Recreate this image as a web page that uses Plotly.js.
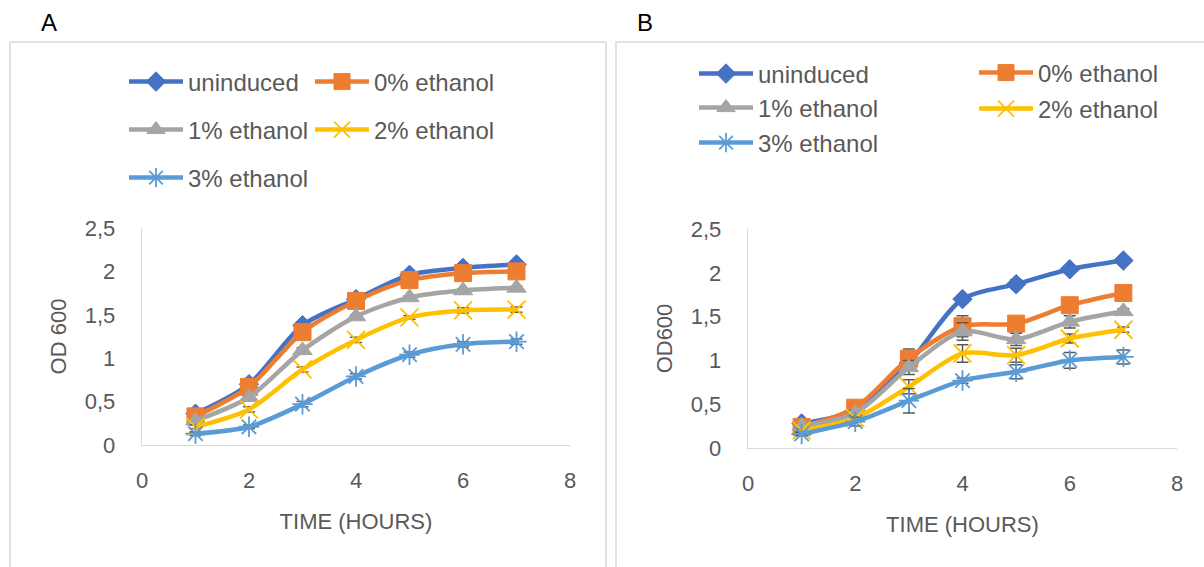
<!DOCTYPE html>
<html><head><meta charset="utf-8">
<script src="https://cdn.plot.ly/plotly-3.0.1.min.js"></script>
<style>html,body{margin:0;padding:0;background:#fff;overflow:hidden;width:1204px;height:567px}#chart{width:1204px;height:567px;overflow:hidden}</style>
</head><body><div id="chart"></div>
<script>
// ---- data ----
const time = [1, 2, 3, 4, 5, 6, 7];
const seriesNames = ['uninduced', '0% ethanol', '1% ethanol', '2% ethanol', '3% ethanol'];

// Panel A (OD 600)
const aUninduced = [0.36, 0.70, 1.38, 1.68, 1.96, 2.04, 2.08];
const aEthanol0  = [0.33, 0.67, 1.30, 1.66, 1.90, 1.98, 2.00];
const aEthanol1  = [0.28, 0.55, 1.09, 1.48, 1.70, 1.78, 1.81];
const aEthanol2  = [0.21, 0.41, 0.87, 1.21, 1.47, 1.55, 1.56];
const aEthanol3  = [0.13, 0.21, 0.47, 0.79, 1.04, 1.16, 1.19];
const aErrUninduced = [0.02, 0.02, 0.03, 0.02, 0.02, 0.02, 0.02];
const aErrEthanol0  = [0.02, 0.03, 0.03, 0.02, 0.02, 0.02, 0.02];
const aErrEthanol1  = [0.02, 0.02, 0.03, 0.02, 0.02, 0.02, 0.02];
const aErrEthanol2  = [0.02, 0.03, 0.03, 0.03, 0.02, 0.03, 0.03];
const aErrEthanol3  = [0.02, 0.02, 0.03, 0.03, 0.03, 0.03, 0.03];

// Panel B (OD600)
const bUninduced = [0.28, 0.43, 0.97, 1.70, 1.87, 2.04, 2.14];
const bEthanol0  = [0.24, 0.46, 1.02, 1.39, 1.42, 1.63, 1.77];
const bEthanol1  = [0.25, 0.40, 0.92, 1.33, 1.24, 1.44, 1.56];
const bEthanol2  = [0.20, 0.34, 0.70, 1.08, 1.06, 1.25, 1.35];
const bEthanol3  = [0.16, 0.30, 0.54, 0.77, 0.87, 1.00, 1.04];
const bErrUninduced = [0.02, 0.03, 0.05, 0.04, 0.05, 0.03, 0.03];
const bErrEthanol0  = [0.02, 0.04, 0.11, 0.12, 0.05, 0.04, 0.03];
const bErrEthanol1  = [0.02, 0.03, 0.08, 0.10, 0.07, 0.07, 0.03];
const bErrEthanol2  = [0.02, 0.03, 0.08, 0.10, 0.08, 0.05, 0.03];
const bErrEthanol3  = [0.02, 0.05, 0.14, 0.03, 0.08, 0.09, 0.08];

const xTickVals = [0, 2, 4, 6, 8];
const yTickVals = [0, 0.5, 1, 1.5, 2, 2.5];
const xTitle = 'TIME (HOURS)';
const yTitleA = 'OD 600';
const yTitleB = 'OD600';

// ---- styles ----
const colors = ['#4472C4', '#ED7D31', '#A5A5A5', '#FFC000', '#5B9BD5'];
const symbols = ['diamond', 'square', 'triangle-up', 'x-thin-open', 'asterisk-open'];
const sizes = [15, 17, 17, 18, 17];
const FONT = 'Liberation Sans, Arial, sans-serif';
const W = 1204, H = 567;
const px = v => v / W;
const py = v => 1 - v / H;

const aVals = [aUninduced, aEthanol0, aEthanol1, aEthanol2, aEthanol3];
const aErrs = [aErrUninduced, aErrEthanol0, aErrEthanol1, aErrEthanol2, aErrEthanol3];
const bVals = [bUninduced, bEthanol0, bEthanol1, bEthanol2, bEthanol3];
const bErrs = [bErrUninduced, bErrEthanol0, bErrEthanol1, bErrEthanol2, bErrEthanol3];
// legend entry positions (line start x, row centre y) in page pixels
const aLegPos = [[129, 82], [315, 82], [129, 130], [315, 130], [129, 178]];
const bLegPos = [[699, 74], [979, 73], [699, 108], [979, 109], [699, 143]];

function legId(k) { return k === 0 ? 'legend' : 'legend' + (k + 1); }

function makeTrace(i, y, err, xa, ya, leg) {
  const open = symbols[i].indexOf('open') >= 0;
  return {
    x: time, y: y, name: seriesNames[i], xaxis: xa, yaxis: ya, legend: leg,
    type: 'scatter', mode: 'lines+markers',
    line: {color: colors[i], width: 4.5, shape: 'spline', smoothing: 0.8},
    marker: {symbol: symbols[i], size: sizes[i], color: colors[i],
             line: {color: colors[i], width: open ? 1.8 : 1}},
    error_y: {type: 'data', array: err, visible: true, color: '#595959', thickness: 1.5, width: 6},
    cliponaxis: false
  };
}

const traces = [];
for (let i = 0; i < 5; i++) traces.push(makeTrace(i, aVals[i], aErrs[i], 'x', 'y', legId(i)));
for (let i = 0; i < 5; i++) traces.push(makeTrace(i, bVals[i], bErrs[i], 'x2', 'y2', legId(5 + i)));

function axisX(domain, anchor) {
  return {domain: domain, anchor: anchor, range: [0, 8], tickvals: xTickVals, showgrid: false, zeroline: false,
    showline: true, linecolor: '#D9D9D9', linewidth: 1.3, ticks: '', ticklabelstandoff: 15,
    tickfont: {family: FONT, size: 22, color: '#595959'},
    title: {text: xTitle, font: {family: FONT, size: 22, color: '#595959'}, standoff: 22}};
}
function axisY(domain, anchor, t) {
  return {domain: domain, anchor: anchor, range: [0, 2.5], tickvals: yTickVals, showgrid: false, zeroline: false,
    showline: true, linecolor: '#D9D9D9', linewidth: 1.3, ticks: '', ticklabelstandoff: 21,
    tickfont: {family: FONT, size: 22, color: '#595959'},
    title: {text: t, font: {family: FONT, size: 22, color: '#595959'}, standoff: 12}};
}
function legendAt(xLine, yCenter) {
  return {orientation: 'h', x: px(xLine - 5), xanchor: 'left', y: py(yCenter), yanchor: 'middle',
    bgcolor: 'rgba(0,0,0,0)', borderwidth: 0, itemwidth: 54,
    font: {family: FONT, size: 24, color: '#595959'}, itemclick: false};
}

// panel frames drawn as open paths that stay inside the page
const boxA = 'M' + px(10) + ',0 L' + px(10) + ',' + py(42) + ' L' + px(606) + ',' + py(42) + ' L' + px(606) + ',0';
const boxB = 'M' + px(616) + ',0 L' + px(616) + ',' + py(42) + ' L1,' + py(42);

const layout = {
  width: W, height: H, margin: {l: 0, r: 0, t: 0, b: 0, autoexpand: false},
  paper_bgcolor: '#fff', plot_bgcolor: 'rgba(0,0,0,0)',
  separators: ', ', showlegend: true,
  xaxis: axisX([px(142), px(570)], 'y'),
  yaxis: axisY([1 - 445 / H, 1 - 228 / H], 'x', yTitleA),
  xaxis2: axisX([px(748), px(1177)], 'y2'),
  yaxis2: axisY([1 - 448 / H, 1 - 229 / H], 'x2', yTitleB),
  shapes: [
    {type: 'path', xref: 'paper', yref: 'paper', path: boxA, line: {color: '#D9D9D9', width: 1.5}, layer: 'below'},
    {type: 'path', xref: 'paper', yref: 'paper', path: boxB, line: {color: '#D9D9D9', width: 1.5}, layer: 'below'}
  ],
  annotations: [
    {text: 'A', xref: 'paper', yref: 'paper', x: px(48.5), y: py(22.5), xanchor: 'center', yanchor: 'middle',
     showarrow: false, font: {family: FONT, size: 24, color: '#000'}},
    {text: 'B', xref: 'paper', yref: 'paper', x: px(645), y: py(22.5), xanchor: 'center', yanchor: 'middle',
     showarrow: false, font: {family: FONT, size: 24, color: '#000'}}
  ]
};
for (let k = 0; k < 5; k++) layout[legId(k)] = legendAt(aLegPos[k][0], aLegPos[k][1]);
for (let k = 0; k < 5; k++) layout[legId(5 + k)] = legendAt(bLegPos[k][0], bLegPos[k][1]);

Plotly.newPlot('chart', traces, layout, {displayModeBar: false, staticPlot: true});
</script>
</body></html>
